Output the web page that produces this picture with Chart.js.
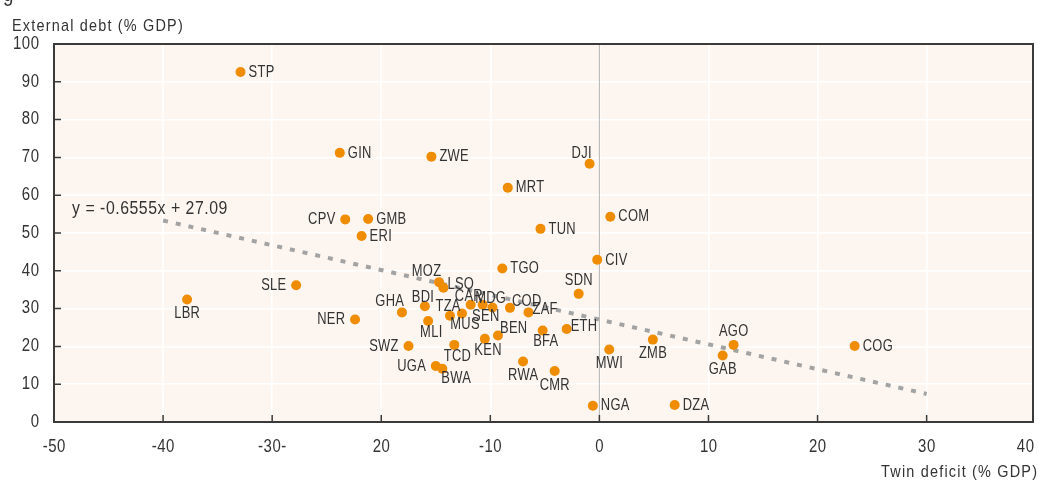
<!DOCTYPE html>
<html>
<head>
<meta charset="utf-8">
<script src="https://cdn.jsdelivr.net/npm/chart.js@4/dist/chart.umd.min.js"></script>
<style>
  html, body { margin: 0; padding: 0; background: #fff; overflow: hidden; }
  #c { display: block; }
</style>
</head>
<body>
<canvas id="c" width="1038" height="480"></canvas>
<script>
// Country codes, twin deficit (x) and external debt (y), both % of GDP
const codes = ['STP','GIN','ZWE','DJI','MRT','CPV','GMB','ERI','COM','TUN',
  'CIV','TGO','SDN','LBR','SLE','MOZ','LSO','NER','GHA','BDI',
  'MLI','TZA','MUS','CAR','SEN','MDG','COD','ZAF','BEN','KEN',
  'BFA','ETH','SWZ','TCD','UGA','BWA','RWA','CMR','MWI','NGA',
  'ZMB','DZA','AGO','GAB','COG'];
const twinDeficit = [-32.9,-23.8,-15.4,-0.9,-8.4,-23.3,-21.2,-21.8,1.0,-5.4,
  -0.2,-8.9,-1.9,-37.8,-27.8,-14.7,-14.3,-22.4,-18.1,-16.0,
  -15.7,-13.7,-12.6,-11.8,-10.7,-9.8,-8.2,-6.5,-9.3,-10.5,
  -5.2,-3.0,-17.5,-13.3,-15.0,-14.4,-7.0,-4.1,0.9,-0.6,
  4.9,6.9,12.3,11.3,23.4];
const externalDebt = [92.6,71.2,70.2,68.3,62.0,53.6,53.7,49.2,54.3,51.1,
  42.9,40.6,33.9,32.4,36.2,37.0,35.5,27.1,29.0,30.6,
  26.7,28.1,28.7,31.0,31.0,30.3,30.2,29.0,22.9,22.0,
  24.2,24.6,20.1,20.4,14.8,14.1,16.0,13.5,19.2,4.3,
  21.8,4.5,20.4,17.6,20.1];

// where each country label sits around its dot
const labelSide = ['r','r','r','tl','r','l','r','r','r','r',
  'r','r','t','b','l','tl','rn','l','tl','ts',
  'bs','ts','bs','ts','bs','ts','tr','rn','tr','bs',
  'bs','rn','l','bs','l','br','b','b','b','r',
  'b','r','t','b','r'];

// fitted trend line
const trendSlope = -0.6555;
const trendIntercept = 27.09;
const trendX = [-40, 30];
const trendText = 'y = -0.6555x + 27.09';

// axis ticks (labels as printed in the source)
const xTickValues = [-50, -40, -30, -20, -10, 0, 10, 20, 30, 40];
const xTickLabels = ['-50', '-40', '-30-', '20', '-10', '0', '10', '20', '30', '40'];
const yTickValues = [0, 10, 20, 30, 40, 50, 60, 70, 80, 90, 100];
const yTitle = 'External debt (% GDP)';
const xTitle = 'Twin deficit (% GDP)';

const FONT = '"Liberation Sans", Arial, sans-serif';
const TEXT = '#333333';
const ORANGE = '#F08C00';
const PLOT_BG = '#FDF6F0';

const sides = {
  r:  [8, 0, 'left'],   rn: [4, -3, 'left'],  tr: [2, -7, 'left'],
  l:  [-10, 0, 'right'], t: [0, -14, 'center'], ts: [-2, -9, 'center'],
  tl: [2, -11, 'right'], b: [0, 14, 'center'], bs: [3, 11, 'center'],
  br: [-1, 10, 'left']
};

// condensed-looking text: Liberation Sans squeezed horizontally
function drawText(ctx, str, x, y, size, align, sx, spacing, baseline) {
  ctx.save();
  ctx.font = size + 'px ' + FONT;
  ctx.letterSpacing = spacing + 'px';
  ctx.textAlign = 'left';
  ctx.textBaseline = baseline || 'alphabetic';
  const w = (ctx.measureText(str).width - spacing) * sx;
  let left = x;
  if (align === 'right') left = x - w;
  else if (align === 'center') left = x - w / 2;
  ctx.translate(left, y);
  ctx.scale(sx, 1);
  ctx.fillText(str, 0, 0);
  ctx.restore();
  return w;
}

const decor = {
  id: 'decor',
  beforeDraw(chart) {
    const {ctx, chartArea: a} = chart;
    ctx.save();
    ctx.fillStyle = PLOT_BG;
    ctx.fillRect(a.left, a.top, a.right - a.left, a.bottom - a.top);
    ctx.restore();
  },
  beforeDatasetsDraw(chart) {
    const {ctx, chartArea: a, scales: {x, y}} = chart;
    ctx.save();
    const x0 = x.getPixelForValue(0);
    ctx.strokeStyle = '#b4b4b4';
    ctx.lineWidth = 1;
    ctx.beginPath();
    ctx.moveTo(x0, a.top);
    ctx.lineTo(x0, a.bottom);
    ctx.stroke();

    ctx.strokeStyle = '#3a3a3a';
    ctx.lineWidth = 1.5;
    ctx.beginPath();
    yTickValues.forEach(v => {
      const py = y.getPixelForValue(v);
      if (py <= a.top + 1 || py >= a.bottom - 1) return;
      ctx.moveTo(a.left, py);
      ctx.lineTo(a.left + 7, py);
    });
    xTickValues.forEach(v => {
      const px = x.getPixelForValue(v);
      if (px <= a.left + 1 || px >= a.right - 1) return;
      ctx.moveTo(px, a.bottom);
      ctx.lineTo(px, a.bottom - 7);
    });
    ctx.stroke();
    ctx.restore();
  },
  afterDatasetsDraw(chart) {
    const {ctx, chartArea: a, scales: {x, y}} = chart;
    ctx.save();
    ctx.strokeStyle = '#3a3a3a';
    ctx.lineWidth = 2;
    ctx.strokeRect(a.left, a.top, a.right - a.left, a.bottom - a.top);
    ctx.fillStyle = TEXT;

    // country labels
    codes.forEach((c, i) => {
      const [dx, dy, align] = sides[labelSide[i]];
      drawText(ctx, c, x.getPixelForValue(twinDeficit[i]) + dx,
        y.getPixelForValue(externalDebt[i]) + dy, 17, align, 0.76, 0.4, 'middle');
    });

    // y tick labels
    yTickValues.forEach(v => {
      drawText(ctx, String(v), a.left - 15, y.getPixelForValue(v), 17.6, 'right', 0.85, 0.6, 'middle');
    });

    // x tick labels, last one kept inside the picture
    xTickValues.forEach((v, i) => {
      const px = x.getPixelForValue(v);
      ctx.save();
      ctx.font = '17.6px ' + FONT;
      ctx.letterSpacing = '0.6px';
      const w = (ctx.measureText(xTickLabels[i]).width - 0.6) * 0.85;
      ctx.restore();
      let cx = px;
      if (cx + w / 2 > chart.width - 4) cx = chart.width - 4 - w / 2;
      drawText(ctx, xTickLabels[i], cx, 452, 17.6, 'center', 0.85, 0.6);
    });

    // equation and titles
    drawText(ctx, trendText, 72, 214, 18, 'left', 0.88, 0.6);
    drawText(ctx, yTitle, 12, 31, 17, 'left', 0.85, 1.4);
    drawText(ctx, xTitle, 1037, 477, 17, 'right', 0.85, 1.4);

    // clipped tail of the figure heading
    drawText(ctx, 'g', 3, 1, 22, 'left', 0.85, 0);
    ctx.restore();
  }
};

new Chart(document.getElementById('c'), {
  data: {
    datasets: [
      {
        type: 'scatter',
        data: codes.map((c, i) => ({x: twinDeficit[i], y: externalDebt[i]})),
        backgroundColor: ORANGE,
        borderWidth: 0,
        pointRadius: 5,
        pointHoverRadius: 5
      },
      {
        type: 'line',
        data: trendX.map(v => ({x: v, y: trendSlope * v + trendIntercept})),
        borderColor: '#a3a3a3',
        borderWidth: 4,
        borderDash: [5, 8],
        pointRadius: 0,
        fill: false
      }
    ]
  },
  options: {
    responsive: false,
    animation: false,
    devicePixelRatio: 1,
    layout: { padding: { left: 0, right: 1, top: 44, bottom: 0 } },
    plugins: { legend: { display: false }, tooltip: { enabled: false } },
    scales: {
      x: {
        type: 'linear',
        min: -50,
        max: 39.75,
        ticks: { display: false, stepSize: 10 },
        grid: { color: '#ffffff', lineWidth: 1.5, drawTicks: false },
        border: { display: false },
        afterFit: s => { s.height = 58; s.paddingLeft = 0; s.paddingRight = 0; }
      },
      y: {
        min: 0,
        max: 100,
        ticks: { display: false, stepSize: 10 },
        grid: { color: '#ffffff', lineWidth: 1.5, drawTicks: false },
        border: { display: false },
        afterFit: s => { s.width = 54; s.paddingTop = 0; s.paddingBottom = 0; }
      }
    }
  },
  plugins: [decor]
});
</script>
</body>
</html>
